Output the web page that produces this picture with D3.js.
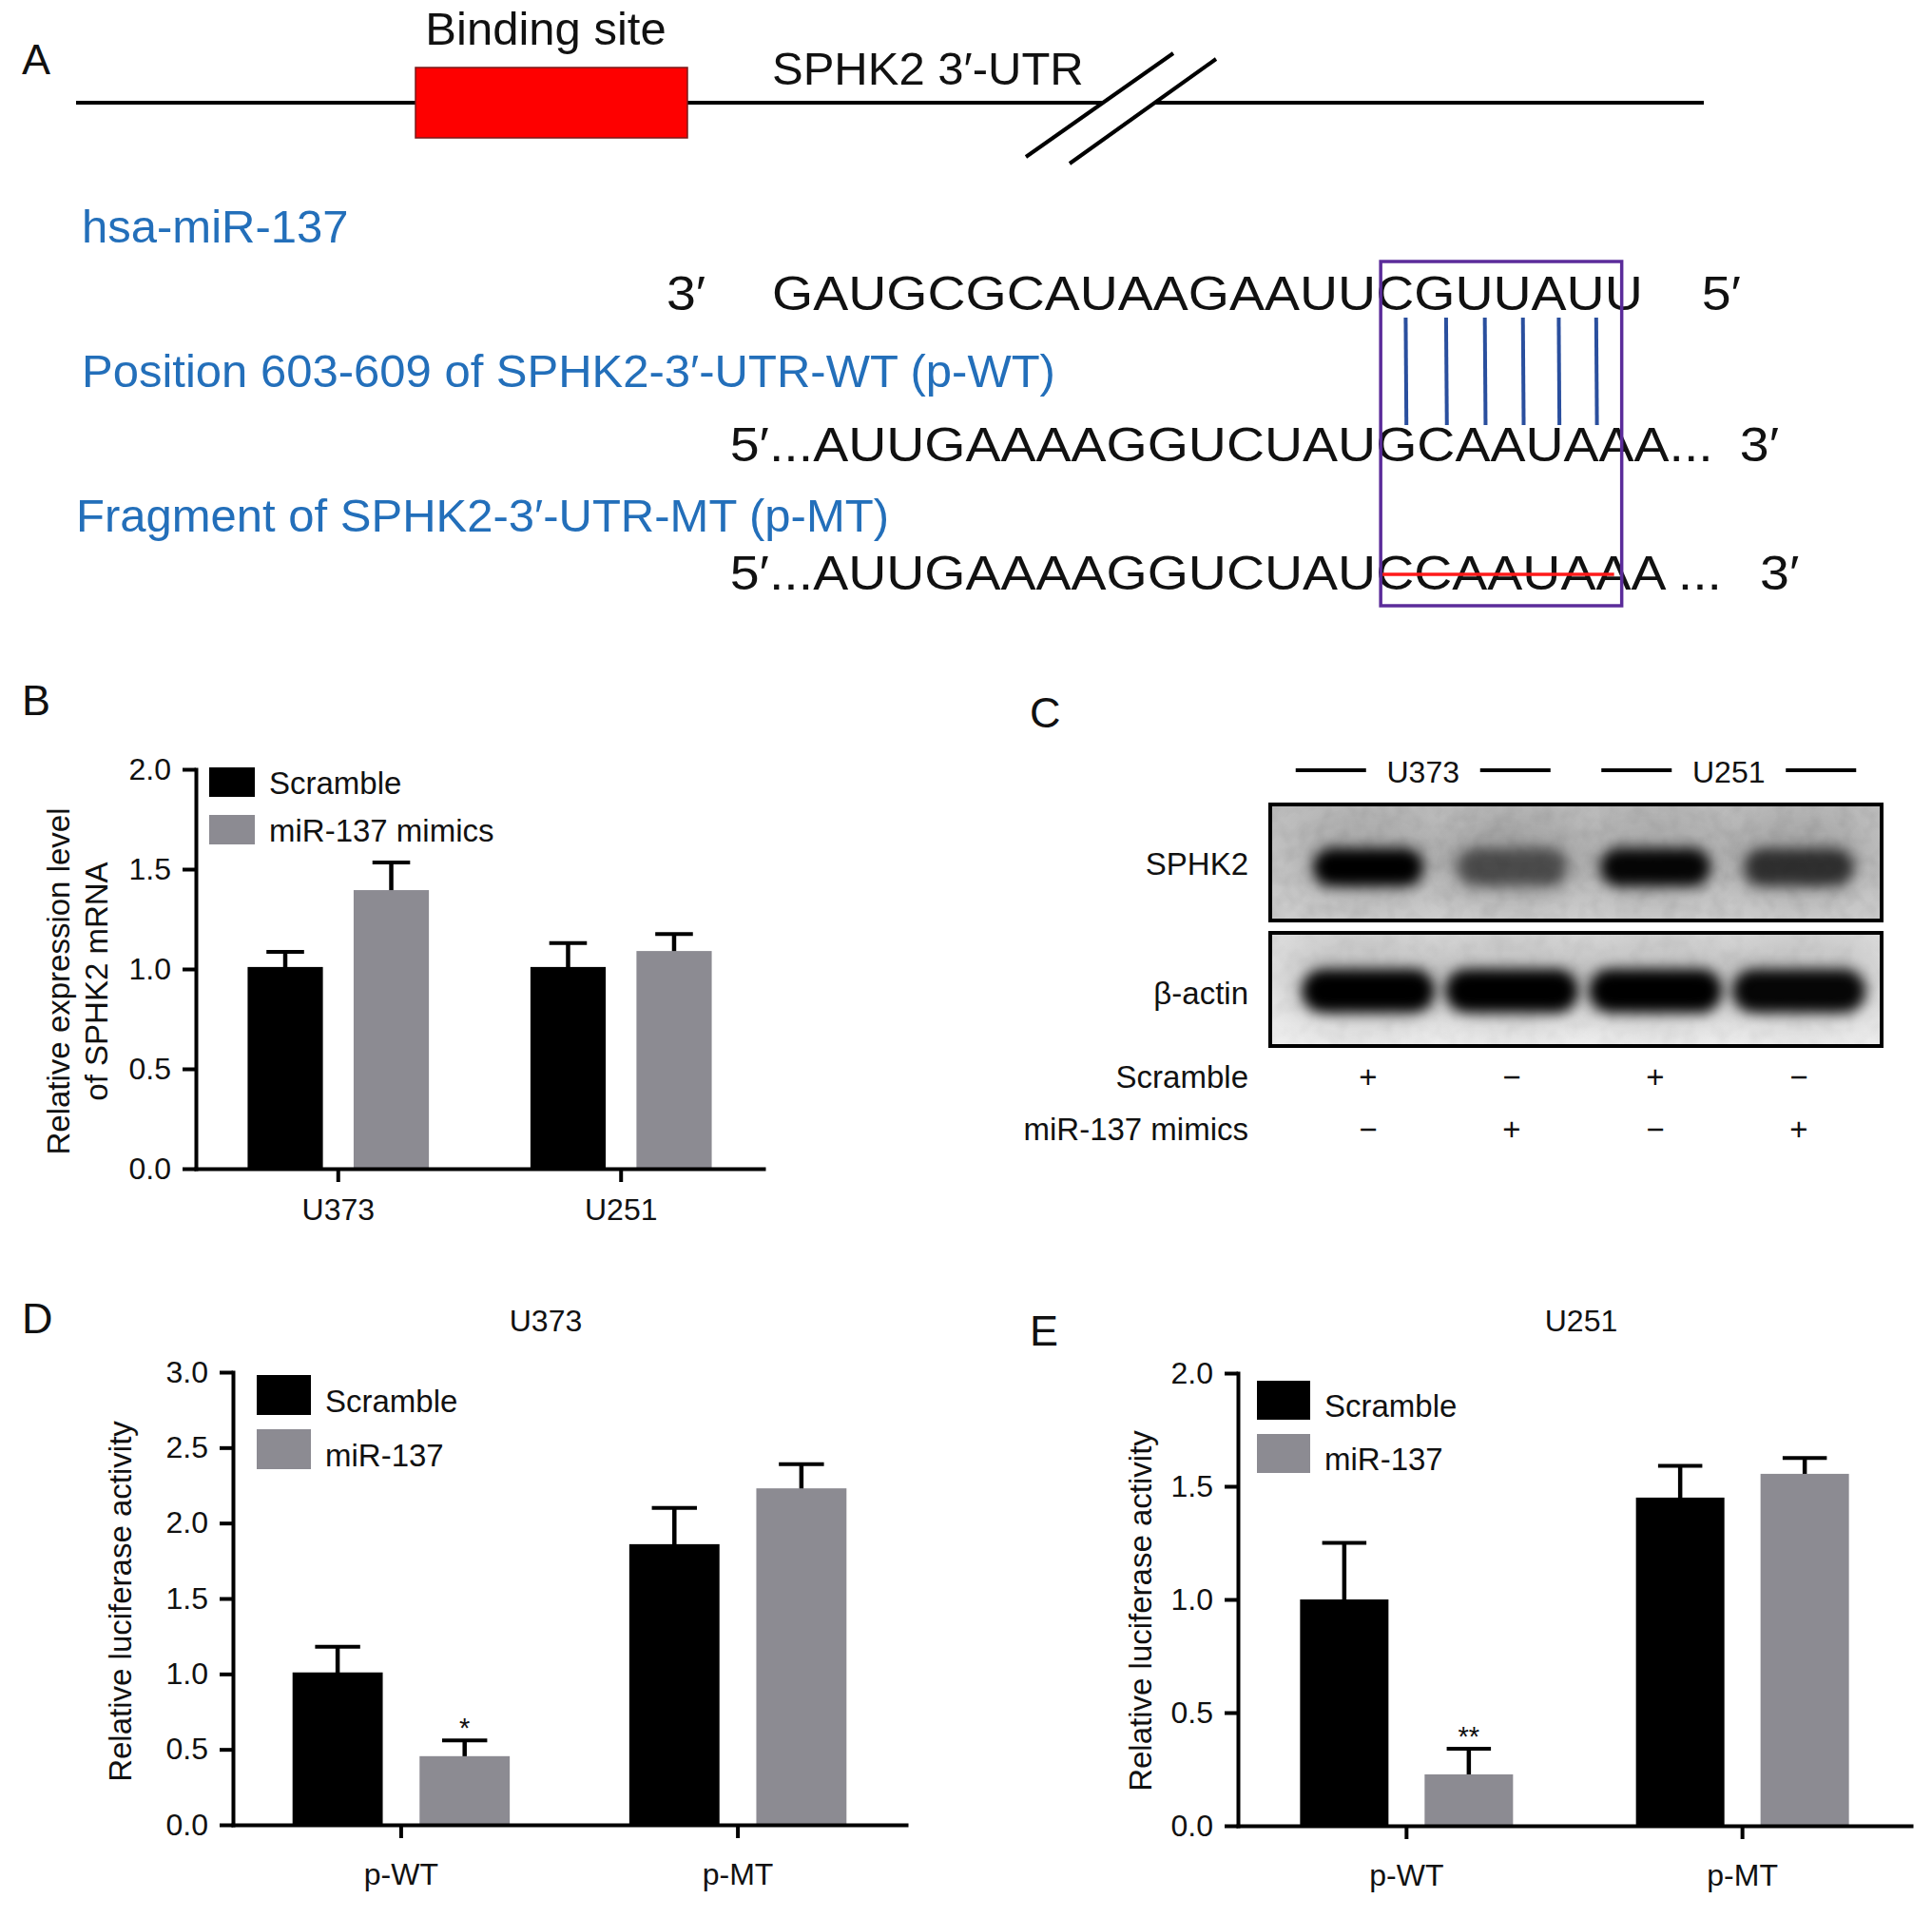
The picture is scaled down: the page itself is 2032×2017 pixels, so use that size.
<!DOCTYPE html>
<meta charset="utf-8">
<style>

body { margin: 0; background: #fff; }
svg { display: block; background: #fff; }

text {
  font-family: "Liberation Sans", Arial, Helvetica, sans-serif;
  fill: #111;
}

.axis path,
.axis line {
  stroke: #000;
  stroke-width: 4px;
}

.axis path { stroke-linecap: square; }

.axis text {
  font-size: 32px;
  fill: #111;
}

</style>
<svg width="2032" height="2017"></svg>
<script src="https://d3js.org/d3.v7.min.js"></script>
<script>

// ---- A: binding site of miR-137 in the SPHK2 3'-UTR
var mirSeq = "GAUGCGCAUAAGAAUUCGUUAUU",
    wtSeq = "AUUGAAAAGGUCUAUGCAAUAAA",
    mtSeq = "AUUGAAAAGGUCUAUCCAAUAAA";
var mirSeed = 16, utrSeed = 15, seedPairs = 6, boxChars = 7;

// ---- B: SPHK2 mRNA (qPCR)
var cellLines = ["U373", "U251"];
var mrnaScramble = [1.01, 1.01],
    mrnaScrambleSD = [0.076, 0.12];
var mrnaMimics = [1.395, 1.09],
    mrnaMimicsSD = [0.138, 0.085];
var mrnaTicks = [0, 0.5, 1.0, 1.5, 2.0];

// ---- C: western blot
var laneCell = ["U373", "U373", "U251", "U251"];
var laneScramble = ["+", "\u2212", "+", "\u2212"];
var laneMimics = ["\u2212", "+", "\u2212", "+"];
var sphk2Band = [1.0, 0.55, 0.97, 0.72];
var actinBand = [1.0, 1.0, 1.0, 0.97];

// ---- D / E: luciferase reporter
var constructs = ["p-WT", "p-MT"];
var u373Scramble = [1.01, 1.86],
    u373ScrambleSD = [0.17, 0.24];
var u373Mir = [0.455, 2.23],
    u373MirSD = [0.105, 0.16],
    u373MirSig = ["*", ""];
var u373Ticks = [0, 0.5, 1.0, 1.5, 2.0, 2.5, 3.0];

var u251Scramble = [1.0, 1.45],
    u251ScrambleSD = [0.25, 0.14];
var u251Mir = [0.227, 1.555],
    u251MirSD = [0.113, 0.07],
    u251MirSig = ["**", ""];
var u251Ticks = [0, 0.5, 1.0, 1.5, 2.0];

var blue = "#236fba",
    grey = "#8c8b92",
    purple = "#5b2c9a";

var svg = d3.select("svg");
var defs = svg.append("defs");

// panel letters
[["A", 23, 78], ["B", 23, 752], ["C", 1083, 765], ["D", 23, 1402], ["E", 1083, 1415]]
  .forEach(function(p) {
    svg.append("text").attr("x", p[1]).attr("y", p[2])
        .style("font-size", "45px").text(p[0]);
  });

// ---------------- A
var gA = svg.append("g");

gA.append("line").attr("x1", 80).attr("x2", 1160).attr("y1", 108).attr("y2", 108)
    .attr("stroke", "#000").attr("stroke-width", 4);
gA.append("line").attr("x1", 1214).attr("x2", 1792).attr("y1", 108).attr("y2", 108)
    .attr("stroke", "#000").attr("stroke-width", 4);
gA.append("line").attr("x1", 1079).attr("y1", 165).attr("x2", 1234).attr("y2", 56)
    .attr("stroke", "#000").attr("stroke-width", 4);
gA.append("line").attr("x1", 1125).attr("y1", 172).attr("x2", 1279).attr("y2", 62)
    .attr("stroke", "#000").attr("stroke-width", 4);

gA.append("rect").attr("x", 437).attr("y", 71).attr("width", 286).attr("height", 74)
    .attr("fill", "#fe0000").attr("stroke", "#7a1a1a").attr("stroke-width", 1.5);

gA.append("text").attr("x", 574).attr("y", 47).attr("text-anchor", "middle")
    .style("font-size", "49px").text("Binding site");
gA.append("text").attr("x", 812).attr("y", 89)
    .style("font-size", "49px").text("SPHK2 3\u2032-UTR");

gA.append("text").attr("x", 86).attr("y", 255).style("font-size", "49px")
    .style("fill", blue).text("hsa-miR-137");
gA.append("text").attr("x", 86).attr("y", 407).style("font-size", "49px")
    .style("fill", blue).text("Position 603-609 of SPHK2-3\u2032-UTR-WT (p-WT)");
gA.append("text").attr("x", 80).attr("y", 559).style("font-size", "49px")
    .style("fill", blue).text("Fragment of SPHK2-3\u2032-UTR-MT (p-MT)");

var seqFS = 50, seqSX = 1.11;

function seqRow(str, x, y) {
  return gA.append("text")
      .attr("transform", "translate(" + x + "," + y + ") scale(" + seqSX + ",1)")
      .style("font-size", seqFS + "px")
      .text(str);
}
function charExt(t, i) {
  var e = t.node().getExtentOfChar(i);
  return {x: e.x * seqSX, w: e.width * seqSX};
}
function rowLength(t) { return t.node().getComputedTextLength() * seqSX; }
function moveRow(t, x, y) {
  t.attr("transform", "translate(" + x + "," + y + ") scale(" + seqSX + ",1)");
}

var mirX = 812, mirY = 326, wtY = 485, mtY = 620;
var mirRow = seqRow(mirSeq, mirX, mirY);
var seedX = mirX + charExt(mirRow, mirSeed).x;
seqRow("3\u2032", 701, mirY);
seqRow("5\u2032", mirX + rowLength(mirRow) + 62, mirY);

var prefix = "5\u2032...";
var wtRow = seqRow(prefix + wtSeq + "...", 0, wtY);
var wtX = seedX - charExt(wtRow, prefix.length + utrSeed).x;
moveRow(wtRow, wtX, wtY);
seqRow("3\u2032", wtX + rowLength(wtRow) + 28, wtY);

var mtRow = seqRow(prefix + mtSeq + " ...", 0, mtY);
var mtX = seedX - charExt(mtRow, prefix.length + utrSeed).x;
moveRow(mtRow, mtX, mtY);
seqRow("3\u2032", mtX + rowLength(mtRow) + 40, mtY);

// pairing lines
gA.append("g").selectAll("line")
  .data(d3.range(seedPairs))
  .join("line")
    .attr("x1", function(k) { var c = charExt(mirRow, mirSeed + k); return mirX + c.x + c.w * 0.78; })
    .attr("x2", function(k) { var c = charExt(mirRow, mirSeed + k); return mirX + c.x + c.w * 0.8; })
    .attr("y1", 334).attr("y2", 447)
    .attr("stroke", "#2a4f9e").attr("stroke-width", 4);

var lastC = charExt(mirRow, mirSeed + boxChars - 1);
var boxL = seedX + 5, boxR = mirX + lastC.x + lastC.w * 0.45;

gA.append("line")
    .attr("x1", boxL + 2).attr("x2", boxR - 8).attr("y1", 604).attr("y2", 604)
    .attr("stroke", "#ff1a1a").attr("stroke-width", 3.5);

gA.append("rect").attr("x", boxL).attr("y", 275).attr("width", boxR - boxL).attr("height", 362)
    .attr("fill", "none").attr("stroke", purple).attr("stroke-width", 3.5);

// ---------------- bar charts (B, D, E)
function barChart(cfg) {
  var g = svg.append("g");

  var y = d3.scaleLinear().domain([0, cfg.yMax]).range([cfg.y0, cfg.y1]);
  var x = d3.scaleBand().domain(cfg.groups).range([cfg.x0, cfg.x1])
      .paddingInner(cfg.padIn).paddingOuter(cfg.padOut);
  var xs = d3.scaleBand().domain(d3.range(cfg.series.length))
      .range([0, x.bandwidth()]).paddingInner(0.29);

  cfg.series.forEach(function(s, si) {
    var rows = cfg.groups.map(function(name, i) {
      return {g: name, v: s.values[i], sd: s.sd[i], sig: s.sig ? s.sig[i] : ""};
    });
    var cx = function(d) { return x(d.g) + xs(si) + xs.bandwidth() / 2; };
    var cap = xs.bandwidth() * 0.25;
    var sg = g.append("g");

    sg.selectAll("line.stem").data(rows).join("line").attr("class", "stem")
        .attr("x1", cx).attr("x2", cx)
        .attr("y1", function(d) { return y(d.v) + 6; })
        .attr("y2", function(d) { return y(d.v + d.sd); })
        .attr("stroke", "#000").attr("stroke-width", 4.5);
    sg.selectAll("line.cap").data(rows).join("line").attr("class", "cap")
        .attr("x1", function(d) { return cx(d) - cap; })
        .attr("x2", function(d) { return cx(d) + cap; })
        .attr("y1", function(d) { return y(d.v + d.sd); })
        .attr("y2", function(d) { return y(d.v + d.sd); })
        .attr("stroke", "#000").attr("stroke-width", 4);

    sg.selectAll("rect").data(rows).join("rect")
        .attr("x", function(d) { return x(d.g) + xs(si); })
        .attr("y", function(d) { return y(d.v); })
        .attr("width", xs.bandwidth())
        .attr("height", function(d) { return y(0) - y(d.v); })
        .attr("fill", s.color);

    sg.selectAll("text.sig").data(rows.filter(function(d) { return d.sig; })).join("text")
        .attr("class", "sig")
        .attr("x", cx)
        .attr("y", function(d) { return y(d.v + d.sd) - 3; })
        .attr("text-anchor", "middle")
        .style("font-size", "29px")
        .text(function(d) { return d.sig; });
  });

  g.append("g").attr("class", "axis")
      .attr("transform", "translate(" + cfg.x0 + ",0)")
      .call(d3.axisLeft(y).tickValues(cfg.ticks).tickFormat(d3.format(".1f"))
        .tickSize(14).tickSizeOuter(0).tickPadding(12));

  g.append("g").attr("class", "axis")
      .attr("transform", "translate(0," + cfg.y0 + ")")
      .call(d3.axisBottom(x).tickSize(14).tickSizeOuter(0).tickPadding(cfg.xPad));

  // legend
  var lg = g.append("g").selectAll("g").data(cfg.series).join("g")
      .attr("transform", function(d, i) {
        return "translate(" + cfg.legend.x + "," + (cfg.legend.y + i * cfg.legend.step) + ")";
      });
  lg.append("rect").attr("width", cfg.legend.w).attr("height", cfg.legend.h)
      .attr("fill", function(d) { return d.color; });
  lg.append("text").attr("x", cfg.legend.w + 15).attr("y", cfg.legend.h - 3)
      .style("font-size", "33px").text(function(d) { return d.name; });

  // y title
  cfg.yLabel.forEach(function(line, i) {
    g.append("text")
        .attr("transform", "translate(" + (cfg.yLabelX + i * 40) + "," + cfg.yLabelY + ") rotate(-90)")
        .attr("text-anchor", "middle")
        .attr("dy", "0.35em")
        .style("font-size", "33px")
        .text(line);
  });

  if (cfg.title) {
    g.append("text").attr("x", cfg.title.x).attr("y", cfg.title.y)
        .attr("text-anchor", "middle").style("font-size", "32px").text(cfg.title.text);
  }
}

barChart({
  groups: cellLines,
  series: [
    {name: "Scramble", color: "#000", values: mrnaScramble, sd: mrnaScrambleSD},
    {name: "miR-137 mimics", color: grey, values: mrnaMimics, sd: mrnaMimicsSD}
  ],
  yMax: 2.0, ticks: mrnaTicks,
  x0: 206, x1: 803, y0: 1229, y1: 809, padIn: 0.359, padOut: 0.183, xPad: 17,
  legend: {x: 220, y: 807, w: 48, h: 31, step: 50},
  yLabel: ["Relative expression level", "of SPHK2 mRNA"], yLabelX: 61, yLabelY: 1032
});

barChart({
  groups: constructs,
  series: [
    {name: "Scramble", color: "#000", values: u373Scramble, sd: u373ScrambleSD},
    {name: "miR-137", color: grey, values: u373Mir, sd: u373MirSD, sig: u373MirSig}
  ],
  yMax: 3.0, ticks: u373Ticks,
  x0: 245, x1: 953, y0: 1919, y1: 1443, padIn: 0.355, padOut: 0.177, xPad: 26,
  legend: {x: 270, y: 1446, w: 57, h: 42, step: 57},
  yLabel: ["Relative luciferase activity"], yLabelX: 126, yLabelY: 1684,
  title: {text: "U373", x: 574, y: 1400}
});

barChart({
  groups: constructs,
  series: [
    {name: "Scramble", color: "#000", values: u251Scramble, sd: u251ScrambleSD},
    {name: "miR-137", color: grey, values: u251Mir, sd: u251MirSD, sig: u251MirSig}
  ],
  yMax: 2.0, ticks: u251Ticks,
  x0: 1302, x1: 2010, y0: 1920, y1: 1444, padIn: 0.366, padOut: 0.185, xPad: 26,
  legend: {x: 1322, y: 1452, w: 56, h: 41, step: 56},
  yLabel: ["Relative luciferase activity"], yLabelX: 1199, yLabelY: 1694,
  title: {text: "U251", x: 1663, y: 1400}
});

// ---------------- C: western blot
var gC = svg.append("g");
var blotX = 1336, blotW = 643;
var lane = d3.scalePoint().domain(d3.range(laneCell.length)).range([1439, 1892]);
var cells = Array.from(new Set(laneCell));
var cellBand = d3.scaleBand().domain(cells).range([blotX, blotX + blotW]);

defs.append("filter").attr("id", "blur").attr("x", "-50%").attr("y", "-50%")
    .attr("width", "200%").attr("height", "200%")
  .append("feGaussianBlur").attr("stdDeviation", 7);
defs.append("filter").attr("id", "haze").attr("x", "-50%").attr("y", "-50%")
    .attr("width", "200%").attr("height", "200%")
  .append("feGaussianBlur").attr("stdDeviation", 18);

var grain = defs.append("filter").attr("id", "grain").attr("x", 0).attr("y", 0)
    .attr("width", "100%").attr("height", "100%");
grain.append("feTurbulence").attr("type", "fractalNoise").attr("baseFrequency", 0.06)
    .attr("numOctaves", 2).attr("seed", 3).attr("result", "n");
grain.append("feColorMatrix").attr("in", "n").attr("type", "matrix")
    .attr("values", "0 0 0 0 0  0 0 0 0 0  0 0 0 0 0  0 0 0 -1.2 0.75");

var g1 = defs.append("linearGradient").attr("id", "bg1").attr("x1", 0).attr("x2", 0).attr("y1", 0).attr("y2", 1);
g1.append("stop").attr("offset", 0).attr("stop-color", "#bcbcbc");
g1.append("stop").attr("offset", 1).attr("stop-color", "#cdcdcd");
var g2 = defs.append("linearGradient").attr("id", "bg2").attr("x1", 0).attr("x2", 0).attr("y1", 0).attr("y2", 1);
g2.append("stop").attr("offset", 0).attr("stop-color", "#dadada");
g2.append("stop").attr("offset", 1).attr("stop-color", "#eeeeee");

var blots = [
  {name: "SPHK2", level: sphk2Band, y: 846, h: 122, bg: "url(#bg1)", cy: 912, rx: 58, ry: 20, labelY: 920, grain: 0.10},
  {name: "\u03b2-actin", level: actinBand, y: 981, h: 119, bg: "url(#bg2)", cy: 1042, rx: 70, ry: 23, labelY: 1056, grain: 0.06}
];

blots.forEach(function(b, bi) {
  var clipId = "clip-blot-" + bi;
  defs.append("clipPath").attr("id", clipId)
    .append("rect").attr("x", blotX).attr("y", b.y).attr("width", blotW).attr("height", b.h);

  var bg = gC.append("g").attr("clip-path", "url(#" + clipId + ")");
  bg.append("rect").attr("x", blotX).attr("y", b.y).attr("width", blotW).attr("height", b.h)
      .attr("fill", b.bg);
  bg.append("rect").attr("x", blotX).attr("y", b.y).attr("width", blotW).attr("height", b.h)
      .attr("fill", "#000").attr("opacity", b.grain).attr("filter", "url(#grain)");

  bg.selectAll("ellipse.haze").data(b.level).join("ellipse").attr("class", "haze")
      .attr("cx", function(d, i) { return lane(i); })
      .attr("cy", b.cy - 8)
      .attr("rx", b.rx + 20).attr("ry", b.ry + 26)
      .attr("fill", "#000").attr("opacity", function(d) { return 0.12 + 0.08 * (1 - d); })
      .attr("filter", "url(#haze)");

  bg.selectAll("rect.band").data(b.level).join("rect").attr("class", "band")
      .attr("x", function(d, i) { return lane(i) - b.rx; })
      .attr("y", b.cy - b.ry)
      .attr("width", b.rx * 2).attr("height", b.ry * 2)
      .attr("rx", b.ry).attr("ry", b.ry)
      .attr("fill", "#000").attr("opacity", function(d) { return d; })
      .attr("filter", "url(#blur)");

  gC.append("rect").attr("x", blotX).attr("y", b.y).attr("width", blotW).attr("height", b.h)
      .attr("fill", "none").attr("stroke", "#000").attr("stroke-width", 4);

  gC.append("text").attr("x", 1313).attr("y", b.labelY).attr("text-anchor", "end")
      .style("font-size", "33px").text(b.name);
});

// cell line headers, centred over each half of the blot
cells.forEach(function(c) {
  var mid = cellBand(c) + cellBand.bandwidth() / 2;
  gC.append("line").attr("x1", mid - 134).attr("x2", mid - 60).attr("y1", 810).attr("y2", 810)
      .attr("stroke", "#000").attr("stroke-width", 4);
  gC.append("line").attr("x1", mid + 60).attr("x2", mid + 134).attr("y1", 810).attr("y2", 810)
      .attr("stroke", "#000").attr("stroke-width", 4);
  gC.append("text").attr("x", mid).attr("y", 823).attr("text-anchor", "middle")
      .style("font-size", "32px").text(c);
});

// treatment rows
[["Scramble", laneScramble, 1144], ["miR-137 mimics", laneMimics, 1199]].forEach(function(r) {
  gC.append("text").attr("x", 1313).attr("y", r[2]).attr("text-anchor", "end")
      .style("font-size", "33px").text(r[0]);
  gC.append("g").selectAll("text").data(r[1]).join("text")
      .attr("x", function(d, i) { return lane(i); })
      .attr("y", r[2])
      .attr("text-anchor", "middle")
      .style("font-size", "33px")
      .text(function(d) { return d; });
});

</script>
